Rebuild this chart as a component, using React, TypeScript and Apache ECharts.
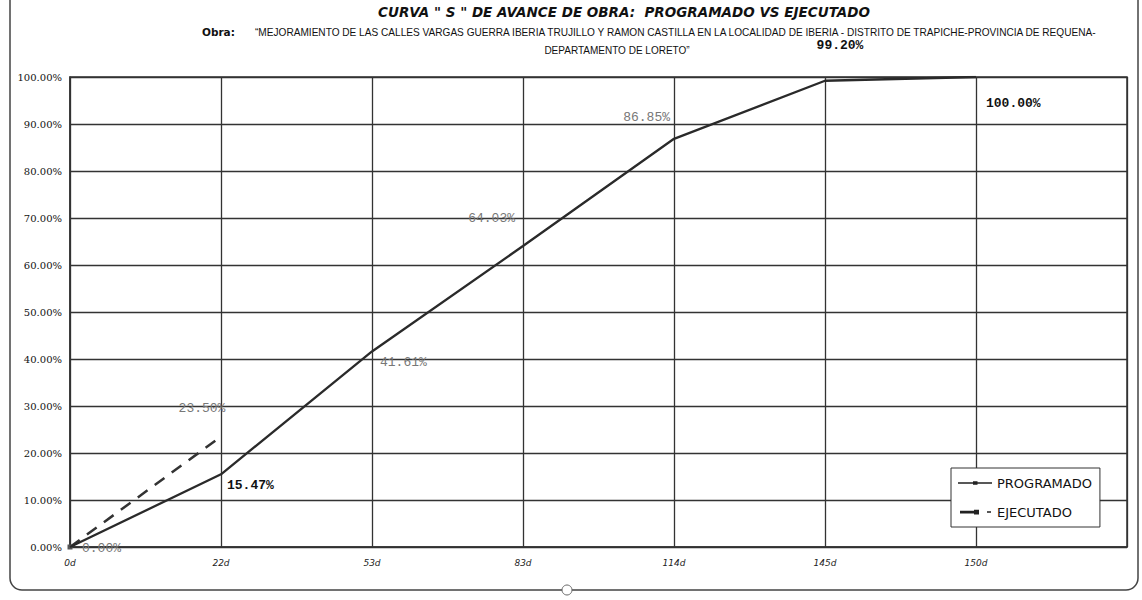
import React, { useEffect, useRef } from "react";
import * as echarts from "echarts";

const categories = ["0d", "22d", "53d", "83d", "114d", "145d", "150d", ""];
const programado = [0, 15.47, 41.61, 64.03, 86.85, 99.2, 100.0];
const ejecutado = [0, 23.5];
const yMin = 0;
const yMax = 100;
const yStep = 10;

const titleText = 'CURVA " S " DE AVANCE DE OBRA:  PROGRAMADO VS EJECUTADO';
const obraLabel = "Obra:";
const obraLine1 =
  "\u201CMEJORAMIENTO DE LAS CALLES VARGAS GUERRA IBERIA TRUJILLO Y RAMON CASTILLA EN LA LOCALIDAD DE IBERIA - DISTRITO DE TRAPICHE-PROVINCIA DE REQUENA-";
const obraLine2 = "DEPARTAMENTO DE LORETO\u201D";

// label placement per programado point: [position, dx, dy, dark]
const progLabelPlacement: [string, number, number, boolean][] = [
  ["right", 7, 1, false],
  ["right", 1, 11, true],
  ["right", 3, 11, false],
  ["left", -3, -28, false],
  ["left", 1, -21, false],
  ["top", 15, -24, true],
  ["right", 5, 26, true],
];
const ejecLabelPlacement: [string, number, number, boolean][] = [
  ["none", 0, 0, false],
  ["top", -19, -17, false],
];

const fmt = (v: number) => v.toFixed(2) + "%";

export default function App() {
  const ref = useRef<HTMLDivElement>(null);
  useEffect(() => {
    document.body.style.margin = "0";
    if (!ref.current) return;
    const chart = echarts.init(ref.current, undefined, { renderer: "svg" });

    const labelFor = (p: [string, number, number, boolean]) =>
      p[0] === "none"
        ? { show: false }
        : {
            show: true,
            position: p[0],
            offset: [p[1], p[2]],
            formatter: (d: any) => fmt(Number(d.value)),
            fontFamily: "Liberation Mono",
            fontSize: 13,
            fontWeight: p[3] ? "bold" : "normal",
            color: p[3] ? "#111" : "#777",
          };

    const progData = programado.map((v, i) => ({
      value: v,
      label: labelFor(progLabelPlacement[i]),
    }));
    const ejecData = ejecutado.map((v, i) => ({
      value: v,
      label: labelFor(ejecLabelPlacement[i]),
      symbol: i === 0 ? "rect" : "circle",
      symbolSize: i === 0 ? 5 : 0.01,
    }));

    const progIcon =
      "path://M0,0h0.05v0.05h-0.05Z M34,14h-0.05v-0.05h0.05Z M0,6.3H34V7.7H0Z M15,5.2H19.5V8.8H15Z";
    const ejecIcon =
      "path://M0,0h0.05v0.05h-0.05Z M34,14h-0.05v-0.05h0.05Z M2,5.8H16V8.4H2Z M16,4.8H21V9.4H16Z M29,6.3H33V7.7H29Z";

    chart.setOption({
      animation: false,
      backgroundColor: "#fff",
      grid: {
        left: 70,
        right: 15,
        top: 77,
        bottom: 53,
        show: true,
        borderColor: "#333",
        borderWidth: 1.5,
      },
      legend: {
        left: 951,
        top: 468,
        orient: "vertical",
        padding: [8, 8, 8, 7],
        itemGap: 15,
        itemWidth: 34,
        itemHeight: 14,
        backgroundColor: "#fff",
        borderColor: "#333",
        borderWidth: 1,
        textStyle: { fontFamily: "DejaVu Sans", fontSize: 13, color: "#111" },
        data: [
          { name: "PROGRAMADO", icon: progIcon, itemStyle: { color: "#222", borderWidth: 0 } },
          { name: "EJECUTADO", icon: ejecIcon, itemStyle: { color: "#222", borderWidth: 0 } },
        ],
      },
      xAxis: {
        type: "category",
        data: categories,
        boundaryGap: false,
        axisLine: { show: true, lineStyle: { color: "#333", width: 1.5 } },
        axisTick: { show: false },
        axisLabel: {
          margin: 11,
          fontFamily: "DejaVu Sans",
          fontStyle: "italic",
          fontSize: 9,
          color: "#222",
          interval: 0,
        },
        splitLine: { show: true, interval: 0, lineStyle: { color: "#333", width: 1.3 } },
      },
      yAxis: {
        type: "value",
        min: yMin,
        max: yMax,
        interval: yStep,
        axisLine: { show: true, lineStyle: { color: "#333", width: 1.5 } },
        axisTick: { show: false },
        axisLabel: {
          margin: 8,
          fontFamily: "DejaVu Serif",
          fontSize: 10,
          color: "#111",
          formatter: (v: number) => fmt(v),
        },
        splitLine: { show: true, lineStyle: { color: "#333", width: 1.3 } },
      },
      series: [
        {
          name: "PROGRAMADO",
          type: "line",
          data: progData,
          symbol: "circle",
          symbolSize: 0.01,
          showSymbol: true,
          showAllSymbol: true,
          lineStyle: { color: "#2a2a2a", width: 2.3 },
          itemStyle: { color: "#222" },
          z: 3,
        },
        {
          name: "EJECUTADO",
          type: "line",
          data: ejecData,
          showSymbol: true,
          showAllSymbol: true,
          lineStyle: { color: "#333", width: 2.5, type: [12, 9] },
          itemStyle: { color: "#555" },
          z: 2,
        },
      ],
      graphic: [
        {
          type: "rect",
          shape: { x: 10, y: -20, width: 1128, height: 610, r: 12 },
          style: { fill: "none", stroke: "#444", lineWidth: 1.5 },
          silent: true,
        },
        {
          type: "circle",
          shape: { cx: 567, cy: 590, r: 5 },
          style: { fill: "#fff", stroke: "#666", lineWidth: 1 },
          silent: true,
        },
        {
          type: "text",
          x: 624,
          y: 12,
          style: {
            text: titleText,
            fontFamily: "DejaVu Sans",
            fontWeight: "bold",
            fontStyle: "italic",
            fontSize: 13.5,
            fill: "#111",
            align: "center",
            verticalAlign: "middle",
          },
        },
        {
          type: "text",
          x: 202,
          y: 32,
          style: {
            text: obraLabel,
            fontFamily: "DejaVu Sans",
            fontWeight: "bold",
            fontSize: 10.5,
            fill: "#111",
            align: "left",
            verticalAlign: "middle",
          },
        },
        {
          type: "text",
          x: 255,
          y: 32,
          style: {
            text: obraLine1,
            fontFamily: "Liberation Sans",
            fontSize: 10.1,
            fill: "#111",
            align: "left",
            verticalAlign: "middle",
          },
        },
        {
          type: "text",
          x: 617,
          y: 50,
          style: {
            text: obraLine2,
            fontFamily: "Liberation Sans",
            fontSize: 10,
            fill: "#111",
            align: "center",
            verticalAlign: "middle",
          },
        },
      ],
    });
    return () => chart.dispose();
  }, []);
  return <div ref={ref} style={{ width: 1142, height: 600 }} />;
}
